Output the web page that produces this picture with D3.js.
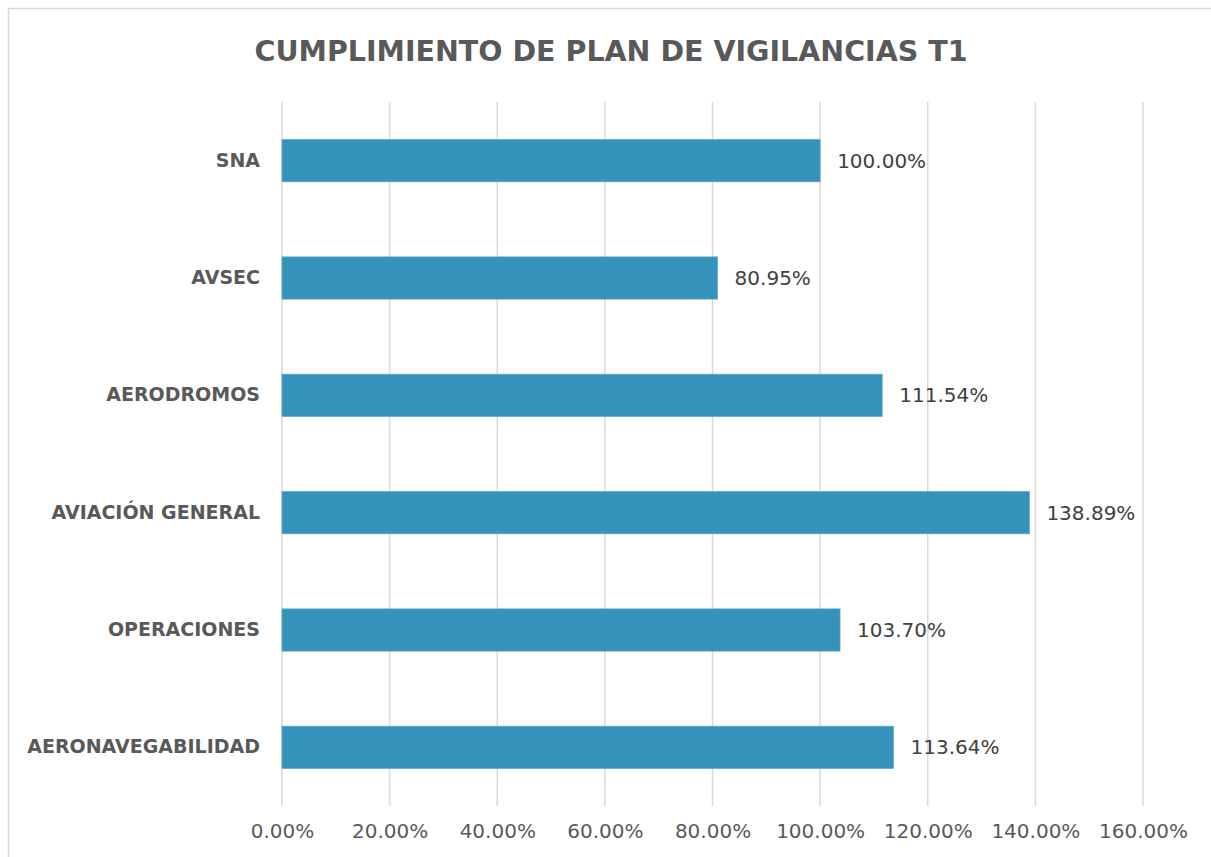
<!DOCTYPE html>
<html lang="es">
<head>
<meta charset="UTF-8">
<title>Cumplimiento de plan de vigilancias T1</title>
<script src="https://cdnjs.cloudflare.com/ajax/libs/d3/7.8.5/d3.min.js"></script>
<style>
  body { margin: 0; background: #fff; }
  svg { display: block; font-family: "DejaVu Sans", sans-serif; }
</style>
</head>
<body>
<div id="chart"></div>
<script>
  // data
  const categories = ["SNA", "AVSEC", "AERODROMOS", "AVIACIÓN GENERAL", "OPERACIONES", "AERONAVEGABILIDAD"];
  const values = [100.00, 80.95, 111.54, 138.89, 103.70, 113.64];
  const tickValues = [0, 20, 40, 60, 80, 100, 120, 140, 160];

  const width = 1211, height = 857;
  const margin = { top: 102, right: 68, bottom: 51, left: 282 };

  const svg = d3.select("#chart").append("svg")
    .attr("width", width)
    .attr("height", height);

  // chart frame
  svg.append("rect")
    .attr("x", 8.5).attr("y", 8.5)
    .attr("width", 1230).attr("height", 880)
    .attr("fill", "none")
    .attr("stroke", "#d9d9d9")
    .attr("stroke-width", 1.5);

  svg.append("text")
    .attr("x", 611).attr("y", 61)
    .attr("text-anchor", "middle")
    .attr("font-size", 28.5)
    .attr("font-weight", "bold")
    .attr("fill", "#595959")
    .text("CUMPLIMIENTO DE PLAN DE VIGILANCIAS T1");

  const x = d3.scaleLinear()
    .domain([0, 160])
    .range([margin.left, width - margin.right]);

  const y = d3.scaleBand()
    .domain(categories)
    .range([margin.top, height - margin.bottom])
    .paddingInner(0.64)
    .paddingOuter(0.32);

  // gridlines
  svg.append("g")
    .selectAll("line")
    .data(tickValues)
    .join("line")
    .attr("x1", d => x(d)).attr("x2", d => x(d))
    .attr("y1", margin.top).attr("y2", height - margin.bottom)
    .attr("stroke", "#d9d9d9")
    .attr("stroke-width", 1.5);

  // x axis labels
  const xAxis = svg.append("g")
    .attr("transform", `translate(0,${height - margin.bottom})`)
    .call(d3.axisBottom(x).tickValues(tickValues).tickSize(0).tickPadding(18)
      .tickFormat(d => d.toFixed(2) + "%"));
  xAxis.select(".domain").remove();
  xAxis.selectAll("text")
    .attr("font-family", "DejaVu Sans, sans-serif")
    .attr("font-size", 20)
    .attr("fill", "#595959");

  // y axis labels
  const yAxis = svg.append("g")
    .attr("transform", `translate(${margin.left},0)`)
    .call(d3.axisLeft(y).tickSize(0).tickPadding(22));
  yAxis.select(".domain").remove();
  yAxis.selectAll("text")
    .attr("font-family", "DejaVu Sans, sans-serif")
    .attr("font-size", 19)
    .attr("font-weight", "bold")
    .attr("fill", "#595959");

  const rows = categories.map((c, i) => ({ cat: c, value: values[i] }));

  svg.append("g")
    .selectAll("rect")
    .data(rows)
    .join("rect")
    .attr("x", x(0))
    .attr("y", d => y(d.cat))
    .attr("width", d => x(d.value) - x(0))
    .attr("height", y.bandwidth())
    .attr("fill", "#3593ba")
    .attr("stroke", "#5aa9c9")
    .attr("stroke-width", 0.75);

  svg.append("g")
    .selectAll("text")
    .data(rows)
    .join("text")
    .attr("x", d => x(d.value) + 17)
    .attr("y", d => y(d.cat) + y.bandwidth() / 2)
    .attr("dy", "0.35em")
    .attr("font-size", 20)
    .attr("fill", "#404040")
    .text(d => d.value.toFixed(2) + "%");
</script>
</body>
</html>
